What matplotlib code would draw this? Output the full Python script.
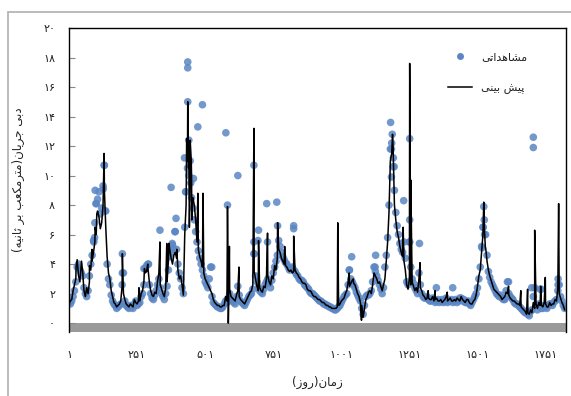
import numpy as np
import matplotlib
matplotlib.use("Agg")
import matplotlib.pyplot as plt
from matplotlib.lines import Line2D
from matplotlib.patches import Rectangle

# daily discharge, two interleaved 10-day grids
DAYS = np.arange(1, 1822, 10)
DAYS_MID = np.arange(6, 1817, 10)
OBS = [1.4, 1.5, 2.2, 3.8, 3.6, 3.2, 2.0, 2.2, 4.0, 5.6,
       8.1, 8.9, 7.8, 10.7, 4.0, 2.6, 1.5, 1.2, 1.1, 1.3,
       3.4, 1.2, 1.0, 1.1, 1.3, 1.2, 1.4, 2.0, 3.7, 4.0,
       2.0, 1.6, 2.2, 3.0, 2.0, 1.6, 2.5, 4.5, 5.3, 6.2,
       4.0, 3.0, 2.0, 8.9, 12.4, 8.5, 7.0, 5.5, 4.4, 3.6,
       2.8, 2.4, 3.8, 1.4, 1.2, 1.1, 1.0, 1.3, 1.4, 2.0,
       1.5, 1.3, 2.5, 1.5, 1.3, 1.4, 1.8, 2.0, 4.7, 2.8,
       2.2, 2.0, 2.6, 3.0, 2.4, 3.4, 4.2, 5.6, 4.8, 4.3,
       4.0, 3.6, 3.8, 3.5, 3.2, 2.9, 2.8, 2.5, 2.3, 2.0,
       1.9, 1.7, 1.5, 1.4, 1.3, 1.2, 1.1, 1.0, 0.9, 1.1,
       1.4, 1.8, 2.0, 3.6, 2.8, 2.4, 1.9, 1.5, 0.6, 1.8,
       1.9, 2.2, 3.8, 3.2, 2.6, 2.0, 3.8, 5.8, 11.8, 10.6,
       7.5, 6.0, 5.0, 5.5, 2.8, 5.5, 3.0, 2.4, 2.0, 2.6,
       1.8, 1.7, 1.6, 1.5, 1.6, 1.5, 1.4, 1.6, 1.5, 1.4,
       1.5, 1.4, 1.6, 1.5, 1.7, 1.6, 1.4, 1.3, 1.4, 1.8,
       2.4, 3.8, 6.5, 6.0, 3.5, 2.8, 2.4, 2.0, 1.8, 1.7,
       1.6, 2.8, 1.8, 1.6, 1.3, 1.2, 1.0, 0.8, 0.7, 0.5,
       0.9, 2.4, 0.9, 2.3, 1.0, 1.1, 1.2, 1.3, 1.4, 1.6,
       2.6, 1.5, 1.0]
OBS_MID = [1.3, 1.8, 2.8, 4.0, 3.4, 2.4, 1.8, 3.2, 4.6, 6.8,
           8.4, 7.4, 9.3, 7.6, 3.0, 1.9, 1.3, 1.0, 1.2, 2.6,
           1.5, 1.1, 1.2, 1.0, 1.5, 1.3, 1.8, 2.6, 3.9, 2.6,
           1.7, 1.9, 2.6, 2.4, 1.8, 2.0, 3.6, 4.8, 5.0, 5.0,
           3.4, 2.4, 6.5, 10.5, 11.0, 7.8, 6.2, 4.9, 4.0, 3.2,
           2.6, 3.0, 1.8, 1.3, 1.1, 1.0, 1.1, 1.5, 1.7, 1.6,
           1.4, 1.8, 1.9, 1.4, 1.2, 1.6, 1.9, 2.3, 3.2, 2.4,
           2.1, 2.3, 2.8, 2.7, 2.9, 3.8, 4.6, 5.2, 4.5, 4.1,
           3.8, 3.7, 3.6, 3.3, 3.0, 2.9, 2.6, 2.4, 2.1, 2.0,
           1.8, 1.6, 1.5, 1.3, 1.2, 1.1, 1.0, 0.9, 1.0, 1.2,
           1.6, 1.9, 2.6, 3.0, 2.6, 2.1, 1.7, 1.0, 1.2, 1.9,
           2.0, 2.8, 3.5, 2.9, 2.3, 2.4, 4.6, 8.0, 12.2, 9.0,
           6.6, 5.4, 4.8, 4.4, 2.6, 3.8, 2.7, 2.2, 3.4, 2.0,
           1.7, 1.8, 1.5, 1.7, 1.4, 1.6, 1.5, 1.4, 1.7, 1.5,
           1.6, 1.5, 1.4, 1.7, 1.5, 1.4, 1.5, 1.2, 1.6, 2.0,
           3.0, 5.2, 7.0, 4.6, 3.1, 2.6, 2.2, 1.9, 1.9, 1.6,
           2.2, 2.0, 1.7, 1.4, 1.3, 1.1, 0.9, 0.7, 0.6, 0.8,
           1.8, 1.2, 1.3, 1.0, 1.2, 1.0, 1.3, 1.2, 1.5, 2.2,
           1.8, 1.2]
PRED = [1.3, 1.6, 2.6, 4.3, 2.8, 3.5, 1.8, 2.0, 3.6, 4.8,
        6.0, 7.2, 6.8, 9.0, 4.5, 3.0, 1.8, 1.3, 1.2, 1.5,
        2.0, 1.3, 1.1, 1.2, 1.6, 1.3, 1.5, 2.2, 3.4, 3.7,
        2.2, 1.8, 2.0, 3.4, 2.3, 1.8, 2.8, 5.0, 4.0, 4.8,
        3.6, 3.2, 1.9, 8.0, 12.0, 10.0, 8.0, 5.5, 4.5, 3.8,
        3.0, 2.6, 2.2, 1.6, 1.3, 1.2, 1.1, 1.2, 1.5, 2.3,
        1.7, 1.5, 2.2, 1.6, 1.4, 1.5, 1.9, 2.2, 3.5, 2.5,
        2.4, 2.1, 2.4, 3.2, 2.6, 3.0, 3.6, 5.0, 4.4, 4.0,
        3.8, 3.5, 3.4, 3.6, 3.3, 3.0, 2.7, 2.6, 2.2, 2.1,
        1.8, 1.7, 1.6, 1.4, 1.3, 1.2, 1.1, 1.0, 1.0, 1.2,
        1.5, 1.7, 2.2, 2.5, 2.9, 2.6, 2.0, 1.4, 0.4, 1.6,
        2.1, 2.0, 3.4, 3.0, 2.8, 2.2, 3.0, 5.5, 11.0, 12.0,
        7.0, 5.8, 4.8, 4.2, 2.6, 3.0, 2.8, 2.2, 2.1, 2.4,
        1.9, 1.6, 1.7, 1.6, 1.5, 1.7, 1.5, 1.4, 1.6, 1.5,
        1.7, 1.5, 1.5, 1.6, 1.8, 1.5, 1.6, 1.4, 1.3, 1.6,
        2.5, 3.6, 6.0, 5.1, 3.6, 2.9, 2.3, 2.1, 1.9, 1.6,
        1.8, 2.0, 1.7, 1.5, 1.4, 1.3, 1.1, 0.9, 0.6, 0.6,
        0.7, 1.0, 1.0, 1.2, 1.1, 1.3, 1.1, 1.2, 1.3, 1.5,
        2.0, 1.4, 0.9]
PRED_MID = [1.5, 2.2, 3.0, 3.2, 4.0, 2.2, 2.4, 2.8, 4.2, 5.5,
            7.6, 6.4, 8.0, 6.5, 3.4, 2.2, 1.4, 1.1, 1.3, 2.5,
            1.6, 1.2, 1.3, 1.1, 1.4, 1.5, 2.0, 2.8, 3.5, 2.8,
            1.9, 2.1, 2.8, 2.6, 2.0, 2.4, 4.2, 4.4, 4.6, 4.4,
            3.0, 2.6, 6.0, 11.0, 9.5, 8.5, 7.0, 5.0, 4.2, 3.4,
            2.8, 2.4, 2.0, 1.4, 1.2, 1.1, 1.2, 1.8, 1.6, 1.8,
            1.6, 1.9, 1.8, 1.5, 1.3, 1.7, 2.1, 2.6, 3.0, 2.2,
            2.2, 2.5, 3.0, 2.8, 3.2, 3.9, 4.4, 4.8, 4.2, 3.9,
            3.6, 3.6, 3.5, 3.4, 3.1, 2.8, 2.7, 2.3, 2.2, 1.9,
            1.8, 1.6, 1.5, 1.4, 1.2, 1.1, 1.0, 1.0, 1.1, 1.3,
            1.6, 2.0, 2.8, 2.7, 2.7, 2.3, 1.8, 1.2, 1.0, 1.8,
            2.2, 2.6, 3.2, 2.7, 2.5, 2.6, 4.2, 7.5, 11.5, 8.0,
            6.2, 5.2, 4.5, 3.6, 2.3, 2.6, 2.5, 2.4, 3.0, 2.2,
            1.8, 1.7, 1.6, 1.8, 1.6, 1.5, 1.6, 1.5, 1.8, 1.6,
            1.5, 1.6, 1.7, 1.5, 1.6, 1.4, 1.6, 1.3, 1.5, 1.9,
            3.2, 4.8, 6.5, 4.2, 3.2, 2.6, 2.2, 2.0, 1.8, 1.7,
            2.1, 1.9, 1.6, 1.5, 1.3, 1.2, 1.0, 0.8, 0.7, 0.9,
            1.4, 1.3, 1.4, 1.2, 1.4, 1.1, 1.4, 1.3, 1.6, 2.4,
            1.7, 1.2]

# one-day peaks of the prediction between grid days
SPIKE_DAY = [27, 47, 76, 85, 97, 103, 130, 197, 258, 278,
             290, 335, 360, 368, 397, 433, 437, 440, 443, 446,
             450, 452, 455, 474, 493, 583, 586, 590, 625, 680,
             697, 730, 767, 793, 826, 988, 1030, 1045, 1075, 1189,
             1195, 1228, 1252, 1256, 1290, 1320, 1345, 1390, 1524, 1530,
             1615, 1660, 1685, 1711, 1733, 1750, 1799]
SPIKE_VAL = [3.8, 4.2, 3.9, 5.0, 6.5, 7.4, 11.5, 4.7, 2.4, 3.7,
             4.0, 5.5, 5.4, 5.4, 5.0, 12.5, 15.0, 10.5, 6.5, 12.4,
             11.0, 7.0, 8.5, 8.8, 8.8, 7.9, 0.0, 5.2, 3.8, 13.2,
             5.6, 6.1, 6.8, 5.2, 5.9, 6.8, 3.4, 3.0, 0.2, 12.8,
             9.0, 6.5, 17.6, 9.7, 4.1, 2.2, 2.2, 2.1, 8.2, 5.1,
             2.5, 2.2, 2.3, 6.3, 2.5, 3.1, 8.1]

# observed points off the band (flood peaks, outliers)
OBS_X_DAY = [92, 95, 97, 100, 127, 130, 133, 197, 197, 276,
             293, 335, 376, 380, 390, 394, 425, 429, 437, 437,
             437, 441, 448, 458, 474, 491, 525, 577, 583, 621,
             680, 680, 680, 695, 697, 727, 730, 764, 767, 826,
             826, 1030, 1039, 1125, 1127, 1182, 1185, 1185, 1188, 1192,
             1195, 1230, 1252, 1252, 1252, 1288, 1350, 1410, 1518, 1522,
             1524, 1527, 1615, 1700, 1706, 1706, 1735, 1797, 1797]
OBS_X_VAL = [5.5, 5.8, 9.0, 8.1, 9.1, 10.7, 7.6, 4.7, 3.4, 3.7,
             4.0, 6.3, 9.2, 5.4, 6.2, 7.1, 11.2, 8.9, 17.7, 17.3,
             15.0, 10.0, 9.5, 9.8, 13.3, 14.8, 3.8, 12.9, 8.0, 10.0,
             10.7, 5.5, 4.7, 5.6, 6.3, 8.1, 5.5, 8.2, 6.6, 6.6,
             6.4, 3.6, 4.5, 3.8, 4.6, 13.6, 11.8, 9.9, 12.8, 11.2,
             10.6, 8.3, 12.5, 7.0, 5.5, 5.4, 2.4, 2.4, 5.1, 6.5,
             7.9, 6.0, 2.8, 2.4, 12.6, 11.9, 2.3, 3.0, 2.6]

X_TICKS = [1, 251, 501, 751, 1001, 1251, 1501, 1751]
X_TICKLABELS = ["۱", "۲۵۱", "۵۰۱", "۷۵۱", "۱۰۰۱", "۱۲۵۱", "۱۵۰۱", "۱۷۵۱"]
Y_TICKS = [0, 2, 4, 6, 8, 10, 12, 14, 16, 18, 20]
Y_TICKLABELS = ["۰", "۲", "۴", "۶", "۸", "۱۰", "۱۲", "۱۴", "۱۶", "۱۸", "۲۰"]

LBL_OBS = "مشاهداتی"
LBL_PRED = "پیش بینی"
X_LABEL = "زمان(روز)"
Y_LABEL = "دبی جریان(مترمکعب بر ثانیه)"

C_DOT, C_LINE, C_FLOOR, C_TEXT = "#5a86c4", "#000000", "#9a9a9a", "#222222"

# matplotlib has no Arabic shaping / bidi: pick presentation forms and reverse
FORMS = {  # isolated, final, initial, medial
    "ا": ("\uFE8D", "\uFE8E", None, None),
    "ب": ("\uFE8F", "\uFE90", "\uFE91", "\uFE92"),
    "پ": ("\uFB56", "\uFB57", "\uFB58", "\uFB59"),
    "ت": ("\uFE95", "\uFE96", "\uFE97", "\uFE98"),
    "ث": ("\uFE99", "\uFE9A", "\uFE9B", "\uFE9C"),
    "ج": ("\uFE9D", "\uFE9E", "\uFE9F", "\uFEA0"),
    "د": ("\uFEA9", "\uFEAA", None, None),
    "ر": ("\uFEAD", "\uFEAE", None, None),
    "ز": ("\uFEAF", "\uFEB0", None, None),
    "س": ("\uFEB1", "\uFEB2", "\uFEB3", "\uFEB4"),
    "ش": ("\uFEB5", "\uFEB6", "\uFEB7", "\uFEB8"),
    "ع": ("\uFEC9", "\uFECA", "\uFECB", "\uFECC"),
    "ک": ("\uFB8E", "\uFB8F", "\uFB90", "\uFB91"),
    "م": ("\uFEE1", "\uFEE2", "\uFEE3", "\uFEE4"),
    "ن": ("\uFEE5", "\uFEE6", "\uFEE7", "\uFEE8"),
    "ه": ("\uFEE9", "\uFEEA", "\uFEEB", "\uFEEC"),
    "و": ("\uFEED", "\uFEEE", None, None),
    "ی": ("\uFBFC", "\uFBFD", "\uFBFE", "\uFBFF"),
}
MIRROR = {"(": ")", ")": "("}


def rtl(s):
    out = []
    for i, ch in enumerate(s):
        if ch not in FORMS:
            out.append(ch)
            continue
        prev = s[i - 1] if i > 0 else ""
        nxt = s[i + 1] if i + 1 < len(s) else ""
        join_prev = prev in FORMS and FORMS[prev][2] is not None
        join_next = FORMS[ch][2] is not None and nxt in FORMS
        iso, fin, ini, med = FORMS[ch]
        if join_prev and join_next:
            out.append(med)
        elif join_prev:
            out.append(fin)
        elif join_next:
            out.append(ini)
        else:
            out.append(iso)
    return "".join(MIRROR.get(c, c) for c in reversed(out))


plt.rcParams["font.family"] = ["DejaVu Sans"]

fig = plt.figure(figsize=(5.71, 3.96), dpi=100)
fig.patch.set_facecolor("white")
fig.patches.append(Rectangle((8 / 571, -0.02), 1.0, 0.995 - 10 / 396 + 0.02,
                             transform=fig.transFigure, fill=False,
                             edgecolor="#b5b5b5", lw=1.3))

ax = fig.add_axes([69 / 571, 1 - 332 / 396, 497 / 571, 304 / 396])

obs_d = np.concatenate([DAYS, DAYS_MID, OBS_X_DAY])
obs_v = np.concatenate([OBS, OBS_MID, OBS_X_VAL])
pred_d = np.concatenate([DAYS, DAYS_MID, SPIKE_DAY])
pred_v = np.concatenate([PRED, PRED_MID, SPIKE_VAL])
order = np.argsort(pred_d, kind="stable")

ax.scatter(obs_d, obs_v, s=30, color=C_DOT, edgecolors="none", alpha=0.85,
           zorder=2)
ax.plot(pred_d[order], pred_v[order], color=C_LINE, lw=1.1, zorder=3)

ax.axhspan(-0.6, 0, color=C_FLOOR, zorder=1, lw=0)
ax.set_xlim(1, 1826)
ax.set_ylim(-0.6, 20)

for s in ("top", "right", "left"):
    ax.spines[s].set_color("black")
    ax.spines[s].set_linewidth(1.0)
ax.spines["bottom"].set_visible(False)

ax.set_xticks(X_TICKS)
ax.set_xticklabels(X_TICKLABELS)
ax.set_yticks(Y_TICKS)
ax.set_yticklabels(Y_TICKLABELS)
ax.tick_params(axis="x", length=0, pad=13, labelsize=8, labelcolor=C_TEXT)
ax.tick_params(axis="y", direction="in", length=4, color="#888888",
               pad=10, labelsize=8, labelcolor=C_TEXT)

ax.set_xlabel(rtl(X_LABEL), fontsize=8.5, color=C_TEXT)
ax.xaxis.set_label_coords(0.5, -0.145)
ax.set_ylabel(rtl(Y_LABEL), fontsize=8.5, color=C_TEXT)
ax.yaxis.set_label_coords(-0.088, 0.5)

handles = [Line2D([], [], ls="none", marker="o", ms=5, color=C_DOT,
                  markeredgewidth=0),
           Line2D([], [], color=C_LINE, lw=1.1)]
ax.legend(handles, [rtl(LBL_OBS), rtl(LBL_PRED)], loc="upper left",
          bbox_to_anchor=(0.742, 0.953), frameon=False, fontsize=8,
          handlelength=2.2, labelspacing=1.87, labelcolor=C_TEXT)

fig.savefig("out.png", dpi=100, facecolor="white")
